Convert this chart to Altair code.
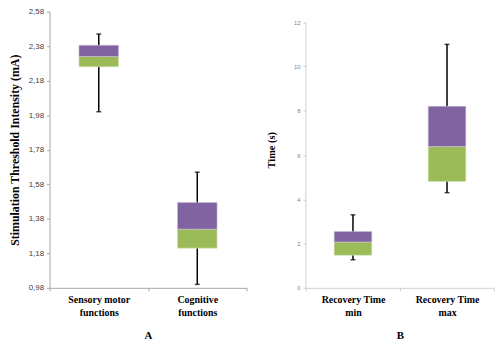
import altair as alt
import pandas as pd

# Panel A data
cats_a = ["Sensory motor\nfunctions", "Cognitive\nfunctions"]
low_a = [2.00, 1.00]
q1_a = [2.26, 1.21]
med_a = [2.32, 1.32]
q3_a = [2.385, 1.475]
high_a = [2.45, 1.65]
ticks_a = [0.98, 1.18, 1.38, 1.58, 1.78, 1.98, 2.18, 2.38, 2.58]

# Panel B data
cats_b = ["Recovery Time\nmin", "Recovery Time\nmax"]
low_b = [1.27, 4.30]
q1_b = [1.47, 4.80]
med_b = [2.07, 6.38]
q3_b = [2.55, 8.20]
high_b = [3.30, 11.00]
ticks_b = [0, 2, 4, 6, 8, 10, 12]

PURPLE = "#8064A2"
GREEN = "#9BBB59"
SERIF = "Liberation Serif"
NARROW = "Liberation Sans Narrow, Arial Narrow, Liberation Sans"


def panel(cats, low, q1, med, q3, high, ticks, domain, ytitle, xtitle,
          width, height, label_expr, label_size, label_color, axis_color,
          box_size, draw_axis_rule, ytitle_size, ytitle_pad):
    df = pd.DataFrame({"cat": cats, "low": low, "q1": q1, "med": med,
                       "q3": q3, "high": high})
    xenc = alt.X(
        "cat:N", sort=cats,
        scale=alt.Scale(paddingInner=0, paddingOuter=0),
        axis=alt.Axis(
            title=xtitle, labelAngle=0, tickBand="extent",
            labelExpr="split(datum.label, '\\n')",
            labelFont=SERIF, labelFontWeight="bold", labelFontSize=10,
            labelColor="black", labelPadding=4, labelLineHeight=13,
            titleFont=SERIF, titleFontWeight="bold", titleFontSize=11,
            titleColor="black", titlePadding=12,
            domainColor=axis_color, tickColor=axis_color, tickSize=3,
        ),
    )
    yaxis = alt.Axis(
        title=ytitle, values=ticks, labelExpr=label_expr, labelOverlap=False,
        labelFont=NARROW, labelFontSize=label_size, labelColor=label_color,
        labelPadding=3, grid=False, domain=not draw_axis_rule,
        domainColor=axis_color, tickColor=axis_color, tickSize=3,
        titleFont=SERIF, titleFontWeight="bold", titleFontSize=ytitle_size,
        titleColor="black", titlePadding=ytitle_pad,
    )
    yscale = alt.Scale(domain=domain, nice=False, zero=False)

    def Y(field):
        return alt.Y(field + ":Q", scale=yscale, axis=yaxis)

    base = alt.Chart(df).encode(x=xenc)
    whisk = base.mark_rule(color="black", strokeWidth=1.5).encode(
        y=Y("low"), y2="high:Q")
    cap_lo = base.mark_tick(color="black", size=5, thickness=1.5).encode(y=Y("low"))
    cap_hi = base.mark_tick(color="black", size=5, thickness=1.5).encode(y=Y("high"))
    lower = base.mark_bar(size=box_size, color=GREEN, stroke="#D8E4BC",
                          strokeWidth=0.6).encode(y=Y("q1"), y2="med:Q")
    upper = base.mark_bar(size=box_size, color=PURPLE, stroke="#CCC0DA",
                          strokeWidth=0.6).encode(y=Y("med"), y2="q3:Q")
    layers = [whisk, cap_lo, cap_hi, lower, upper]
    if draw_axis_rule:
        rdf = pd.DataFrame({"low": [ticks[0]], "high": [ticks[-1]]})
        rule = alt.Chart(rdf).mark_rule(color=axis_color, strokeWidth=1).encode(
            x=alt.value(0), y=Y("low"), y2="high:Q")
        layers = [rule] + layers
    return alt.layer(*layers).properties(width=width, height=height)


panel_a = panel(cats_a, low_a, q1_a, med_a, q3_a, high_a, ticks_a,
                [0.98, 2.58], "Stimulation Threshold Intensity (mA)", "A",
                199, 279, "replace(format(datum.value, '.2f'), '.', ',')",
                8, "#404040", "#A6A6A6", 40, False, 12, 7)
panel_b = panel(cats_b, low_b, q1_b, med_b, q3_b, high_b, ticks_b,
                [0, 12.48], "Time (s)", "B",
                190, 279, "format(datum.value, 'd')",
                6, "#808080", "#D0D0D0", 38, True, 10.5, 17)

chart = alt.hconcat(panel_a, panel_b, spacing=19).resolve_scale(
    x="independent", y="independent"
).properties(
    padding={"left": 8, "top": 6, "right": 5, "bottom": 2}
).configure(background="white", view=alt.ViewConfig(stroke=None))

chart.save("out.html", embed_options={"renderer": "svg", "actions": False})
